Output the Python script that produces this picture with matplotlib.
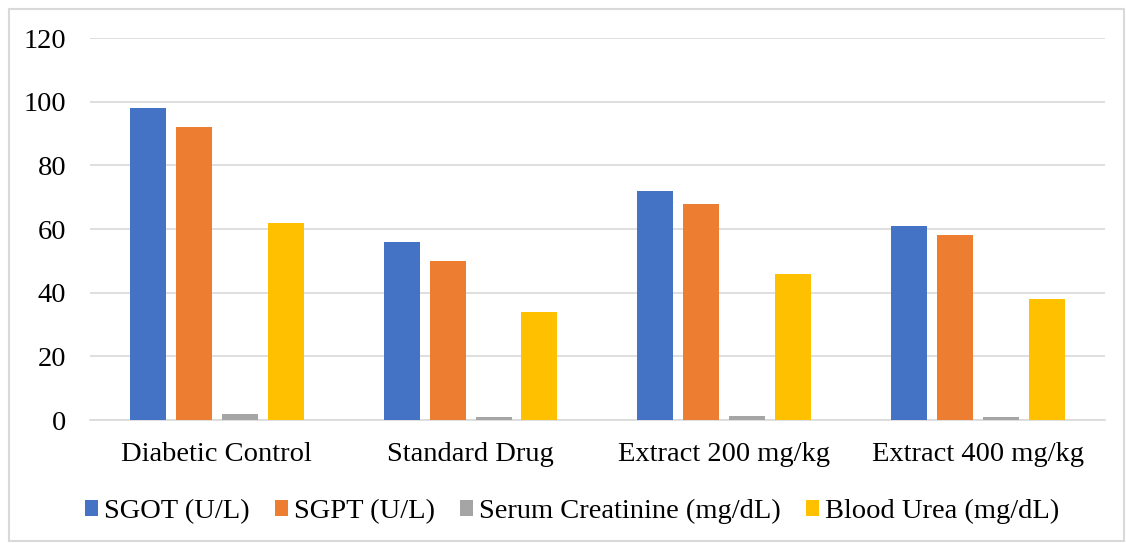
import matplotlib.pyplot as plt
import numpy as np
from matplotlib.patches import Rectangle

plt.rcParams['font.family'] = ['Liberation Serif', 'DejaVu Serif']

groups = ["Diabetic Control", "Standard Drug", "Extract 200 mg/kg", "Extract 400 mg/kg"]
series_names = ["SGOT (U/L)", "SGPT (U/L)", "Serum Creatinine (mg/dL)", "Blood Urea (mg/dL)"]
sgot = [98, 56, 72, 61]
sgpt = [92, 50, 68, 58]
creatinine = [1.8, 0.9, 1.2, 1.0]
urea = [62, 34, 46, 38]
colors = ["#4472C4", "#ED7D31", "#A5A5A5", "#FFC000"]

fig = plt.figure(figsize=(11.26, 5.43), dpi=100)
ax = fig.add_axes([0.0799, 0.2265, 0.9014, 0.7035])

x = np.arange(len(groups))
width = 0.142
step = 0.181
for i, (vals, name) in enumerate(zip([sgot, sgpt, creatinine, urea], series_names)):
    ax.bar(x + (i - 1.5) * step, vals, width, color=colors[i], label=name, zorder=3)

ax.set_xlim(-0.5, len(groups) - 0.5)
ax.set_ylim(0, 120)
ax.set_yticks(range(0, 121, 20))
ax.set_xticks(x)
ax.set_xticklabels(groups)
ax.grid(axis='y', color='#d9d9d9', linewidth=1.2, zorder=0)
for s in ['top', 'right', 'left']:
    ax.spines[s].set_visible(False)
ax.spines['bottom'].set_color('#d9d9d9')
ax.spines['bottom'].set_linewidth(1.2)
ax.tick_params(axis='both', length=0, labelsize=20.5, colors='black')
ax.tick_params(axis='y', pad=17)
ax.tick_params(axis='x', pad=16)

fig.legend(loc='center', bbox_to_anchor=(0.508, 0.058), ncol=4, frameon=False,
           fontsize=20.5, handlelength=0.45, handleheight=0.45, handletextpad=0.2,
           columnspacing=0.9)

fig.patches.append(Rectangle((0.008, 0.004), 0.99, 0.98, transform=fig.transFigure,
                             fill=False, edgecolor='#d9d9d9', linewidth=1.5))

fig.savefig("out.png", dpi=100)
